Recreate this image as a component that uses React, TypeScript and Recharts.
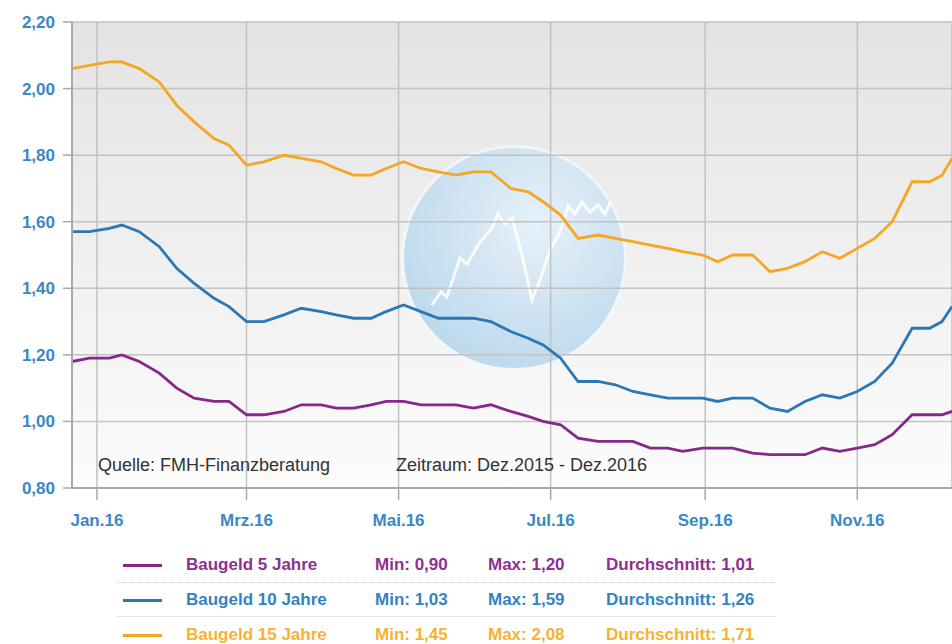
import { LineChart, Line, XAxis, YAxis, CartesianGrid } from "recharts";

// Tage relativ zum 01.01.2016
const days = [
  -10, -3, 5, 10, 17, 25, 32, 39, 47, 53, 60, 67, 75, 82, 90, 96, 103, 110, 116, 123, 130, 137, 144, 151, 158, 166,
  173, 179, 186, 193, 201, 208, 215, 222, 229, 235, 243, 249, 255, 263, 270, 277, 284, 291, 298, 305, 312, 319, 327,
  334, 339, 343,
];

const baugeld5 = [
  1.18, 1.19, 1.19, 1.2, 1.18, 1.145, 1.1, 1.07, 1.06, 1.06, 1.02, 1.02, 1.03, 1.05, 1.05, 1.04, 1.04, 1.05, 1.06, 1.06,
  1.05, 1.05, 1.05, 1.04, 1.05, 1.03, 1.015, 1.0, 0.99, 0.95, 0.94, 0.94, 0.94, 0.92, 0.92, 0.91, 0.92, 0.92, 0.92,
  0.905, 0.9, 0.9, 0.9, 0.92, 0.91, 0.92, 0.93, 0.96, 1.02, 1.02, 1.02, 1.03,
];

const baugeld10 = [
  1.57, 1.57, 1.58, 1.59, 1.57, 1.525, 1.46, 1.415, 1.37, 1.345, 1.3, 1.3, 1.32, 1.34, 1.33, 1.32, 1.31, 1.31, 1.33,
  1.35, 1.33, 1.31, 1.31, 1.31, 1.3, 1.27, 1.25, 1.23, 1.19, 1.12, 1.12, 1.11, 1.09, 1.08, 1.07, 1.07, 1.07, 1.06, 1.07,
  1.07, 1.04, 1.03, 1.06, 1.08, 1.07, 1.09, 1.12, 1.175, 1.28, 1.28, 1.3, 1.345,
];

const baugeld15 = [
  2.06, 2.07, 2.08, 2.08, 2.06, 2.02, 1.95, 1.9, 1.85, 1.83, 1.77, 1.78, 1.8, 1.79, 1.78, 1.76, 1.74, 1.74, 1.76, 1.78,
  1.76, 1.75, 1.74, 1.75, 1.75, 1.7, 1.69, 1.66, 1.62, 1.55, 1.56, 1.55, 1.54, 1.53, 1.52, 1.51, 1.5, 1.48, 1.5, 1.5,
  1.45, 1.46, 1.48, 1.51, 1.49, 1.52, 1.55, 1.6, 1.72, 1.72, 1.74, 1.79,
];

const monthTicks = [0, 60, 121, 182, 244, 305];
const monthLabels = ["Jan.16", "Mrz.16", "Mai.16", "Jul.16", "Sep.16", "Nov.16"];
const yTicks = [0.8, 1.0, 1.2, 1.4, 1.6, 1.8, 2.0, 2.2];

const seriesNames = ["Baugeld 5 Jahre", "Baugeld 10 Jahre", "Baugeld 15 Jahre"];
const seriesMin = ["0,90", "1,03", "1,45"];
const seriesMax = ["1,20", "1,59", "2,08"];
const seriesAvg = ["1,01", "1,26", "1,71"];

const LINE_COLORS = ["#87278a", "#2a78b6", "#f5a623"];
const TEXT_COLORS = ["#8e2f91", "#3582c2", "#f7b234"];
const TICK_BLUE = "#3b87c4";
const FONT = "Arial, 'Liberation Sans', sans-serif";

const data = days.map((d, i) => ({ day: d, b5: baugeld5[i], b10: baugeld10[i], b15: baugeld15[i] }));

const zigzag =
  "432,305 441,292 447,297 460,258 467,264 480,242 492,228 498,214 505,224 512,218 522,255 532,300 540,280 550,250 560,232 568,206 575,214 582,202 590,212 598,205 605,214 610,203";

export default function App() {
  return (
    <div style={{ position: "absolute", left: 0, top: 0, width: 952, height: 644, background: "#fff", fontFamily: FONT, overflow: "hidden" }}>
      {/* Hintergrund + Logo */}
      <svg width={952} height={540} style={{ position: "absolute", left: 0, top: 0 }}>
        <defs>
          <linearGradient id="bg" x1="0" y1="0" x2="0" y2="1">
            <stop offset="0%" stopColor="#e3e3e3" />
            <stop offset="100%" stopColor="#fcfcfc" />
          </linearGradient>
          <radialGradient id="globe" cx="60%" cy="35%" r="70%">
            <stop offset="0%" stopColor="#e6f1f9" />
            <stop offset="100%" stopColor="#bcd8ec" />
          </radialGradient>
        </defs>
        <rect x={72} y={22} width={880} height={466} fill="url(#bg)" />
        <circle cx={514} cy={258} r={113} fill="#f4f8fb" opacity={0.8} />
        <circle cx={514} cy={258} r={110} fill="url(#globe)" />
        <polyline points={zigzag} fill="none" stroke="#ffffff" strokeOpacity={0.85} strokeWidth={3} />
      </svg>

      <div style={{ position: "absolute", left: 0, top: 0 }}>
        <LineChart width={952} height={540} data={data} margin={{ top: 22, right: 0, left: 0, bottom: 0 }}>
          <CartesianGrid stroke="#c2c2c2" strokeWidth={1.5} />
          <XAxis
            type="number"
            dataKey="day"
            domain={[-10, 343]}
            ticks={monthTicks}
            allowDataOverflow
            tickFormatter={(v: number) => monthLabels[monthTicks.indexOf(v)] ?? ""}
            tickSize={12}
            tickMargin={14}
            height={52}
            axisLine={{ stroke: "#a8a8a8", strokeWidth: 2 }}
            tickLine={{ stroke: "#a8a8a8", strokeWidth: 1.5 }}
            tick={{ fill: TICK_BLUE, fontSize: 17, fontWeight: 700, fontFamily: FONT }}
          />
          <YAxis
            type="number"
            domain={[0.8, 2.2]}
            ticks={yTicks}
            allowDataOverflow
            tickFormatter={(v: number) => v.toFixed(2).replace(".", ",")}
            width={72}
            tickSize={9}
            tickMargin={8}
            axisLine={{ stroke: "#a8a8a8", strokeWidth: 2 }}
            tickLine={{ stroke: "#a8a8a8", strokeWidth: 1.5 }}
            tick={{ fill: TICK_BLUE, fontSize: 17, fontWeight: 700, fontFamily: FONT }}
          />
          <Line type="linear" dataKey="b15" stroke={LINE_COLORS[2]} strokeWidth={2.8} dot={false} isAnimationActive={false} />
          <Line type="linear" dataKey="b10" stroke={LINE_COLORS[1]} strokeWidth={2.8} dot={false} isAnimationActive={false} />
          <Line type="linear" dataKey="b5" stroke={LINE_COLORS[0]} strokeWidth={2.8} dot={false} isAnimationActive={false} />
        </LineChart>
      </div>

      <div style={{ position: "absolute", left: 98, top: 455, fontSize: 18, color: "#333" }}>Quelle: FMH-Finanzberatung</div>
      <div style={{ position: "absolute", left: 396, top: 455, fontSize: 18, color: "#333" }}>Zeitraum: Dez.2015 - Dez.2016</div>

      {/* Legende */}
      {seriesNames.map((name, i) => {
        const top = 555 + i * 35;
        const style = { position: "absolute" as const, top, fontSize: 17, fontWeight: 700, color: TEXT_COLORS[i], whiteSpace: "nowrap" as const };
        return (
          <div key={name}>
            <div style={{ position: "absolute", left: 123, top: top + 9, width: 39, height: 3, background: LINE_COLORS[i] }} />
            <div style={{ ...style, left: 186 }}>{name}</div>
            <div style={{ ...style, left: 375 }}>Min: {seriesMin[i]}</div>
            <div style={{ ...style, left: 488 }}>Max: {seriesMax[i]}</div>
            <div style={{ ...style, left: 606 }}>Durchschnitt: {seriesAvg[i]}</div>
          </div>
        );
      })}
      <div style={{ position: "absolute", left: 117, top: 582, width: 658, borderTop: "1px dotted #cfcfcf" }} />
      <div style={{ position: "absolute", left: 117, top: 616, width: 658, borderTop: "1px solid #e3e3e3" }} />
    </div>
  );
}
